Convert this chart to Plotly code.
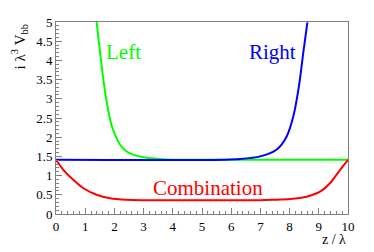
import plotly.graph_objects as go

# Left curve (green)
left_x = [1.39, 1.45, 1.51, 1.62, 1.74, 1.91, 2.05, 2.19, 2.40, 2.65, 3.0, 3.45, 3.8, 4.2, 10.0]
left_y = [5.0, 4.6, 4.21, 3.51, 2.90, 2.29, 2.02, 1.81, 1.64, 1.54, 1.48, 1.44, 1.42, 1.414, 1.414]

# Right curve (blue)
right_x = [0.0, 5.8, 6.30, 6.99, 7.56, 7.90, 8.13, 8.32, 8.47, 8.61]
right_y = [1.414, 1.414, 1.43, 1.50, 1.68, 2.02, 2.55, 3.33, 4.21, 4.99]

# Combination curve (red)
comb_x = [0.0, 0.25, 0.59, 0.94, 1.39, 1.85, 2.42, 3.0, 7.0, 7.44, 8.01, 8.58, 9.04, 9.38, 9.73, 10.0]
comb_y = [1.41, 1.15, 0.89, 0.67, 0.50, 0.41, 0.37, 0.36, 0.36, 0.37, 0.39, 0.45, 0.58, 0.80, 1.15, 1.41]

FONT = "Liberation Serif, Times New Roman, serif"

fig = go.Figure()
fig.add_trace(go.Scatter(x=left_x, y=left_y, mode="lines",
                         line=dict(color="#00ff00", width=2, shape="spline", smoothing=0.8)))
fig.add_trace(go.Scatter(x=right_x, y=right_y, mode="lines",
                         line=dict(color="#0000ff", width=2, shape="spline", smoothing=0.8)))
fig.add_trace(go.Scatter(x=comb_x, y=comb_y, mode="lines",
                         line=dict(color="#ff0000", width=2, shape="spline", smoothing=0.8)))

axis_common = dict(showgrid=False, zeroline=False, showline=True, linecolor="#808080",
                   linewidth=1, mirror=True, ticks="inside", tickcolor="#808080",
                   automargin=False,
                   tickfont=dict(family=FONT, size=13, color="black"))

fig.update_xaxes(range=[0, 10], dtick=1, tick0=0, ticklen=6,
                 minor=dict(dtick=0.2, ticklen=3, ticks="inside", tickcolor="#808080"),
                 **axis_common)
fig.update_yaxes(range=[0, 5], dtick=0.5, tick0=0, ticklen=6,
                 minor=dict(dtick=0.1, ticklen=3, ticks="inside", tickcolor="#808080"),
                 **axis_common)

fig.add_annotation(x=2.31, y=4.21, xref="x", yref="y", text="Left", showarrow=False,
                   font=dict(family=FONT, size=21, color="#00ff00"))
fig.add_annotation(x=7.42, y=4.21, xref="x", yref="y", text="Right", showarrow=False,
                   font=dict(family=FONT, size=21, color="#0000ff"))
fig.add_annotation(x=5.2, y=0.68, xref="x", yref="y", text="Combination", showarrow=False,
                   font=dict(family=FONT, size=21, color="#ff0000"))

fig.add_annotation(x=1.0, y=-0.135, xref="paper", yref="paper", text="z / λ",
                   showarrow=False, xanchor="right", yanchor="middle",
                   font=dict(family=FONT, size=14, color="black"))
fig.add_annotation(x=-0.125, y=1.0, xref="paper", yref="paper",
                   text="i λ<sup>3</sup> V<sub>bb</sub>", textangle=-90,
                   showarrow=False, xanchor="center", yanchor="top",
                   font=dict(family=FONT, size=15, color="black"))

# page body has an 8px margin, so the figure is offset by 8px
fig.update_layout(width=366, height=244, margin=dict(l=48, r=26, t=14, b=38),
                  paper_bgcolor="white", plot_bgcolor="white", showlegend=False)

fig.write_html("out.html")
